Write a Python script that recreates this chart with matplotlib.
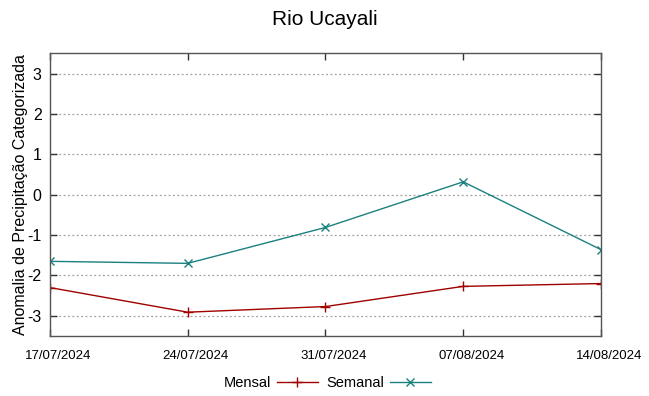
import numpy as np
import matplotlib.pyplot as plt
import matplotlib.transforms as mtransforms
from datetime import datetime

datas = ["17/07/2024", "24/07/2024", "31/07/2024", "07/08/2024", "14/08/2024"]
mensal = [-2.30, -2.91, -2.77, -2.27, -2.20]
semanal = [-1.65, -1.70, -0.81, 0.32, -1.36]
yticks = [-3, -2, -1, 0, 1, 2, 3]

plt.rcParams['font.family'] = ['Liberation Sans', 'DejaVu Sans']

x = [datetime.strptime(d, "%d/%m/%Y") for d in datas]

fig = plt.figure(figsize=(6.49, 3.96), dpi=100)
ax = fig.add_axes([0.0770, 0.1515, 0.8490, 0.7134])

ax.plot(x, mensal, color='#a00000', lw=1, marker='+', ms=7, mew=1, label='Mensal')
ax.plot(x, semanal, color='#1b8080', lw=1, marker='x', ms=6, mew=1, label='Semanal')

ax.set_xlim(x[0], x[-1])
ax.set_ylim(-3.5, 3.5)
ax.set_xticks(x)
ax.set_xticklabels(datas, family=['Liberation Sans Narrow', 'Liberation Sans'], fontsize=9.5)
ax.set_yticks(yticks)
ax.set_yticklabels([str(v) for v in yticks], fontsize=11.5)
ax.tick_params(direction='in', length=5, width=1, top=True, right=True, color='#333333', pad=6)
ax.tick_params(axis='x', pad=10)

# rotulos do eixo x levemente deslocados para a direita, como no original
desloc = mtransforms.ScaledTranslation(8 / 100, 0, fig.dpi_scale_trans)
for lbl in ax.get_xticklabels():
    lbl.set_transform(lbl.get_transform() + desloc)

ax.yaxis.grid(True, linestyle=(0, (1.5, 2)), color='#a0a0a0', lw=0.9)
for s in ax.spines.values():
    s.set_color('#555555')
    s.set_linewidth(1)

ax.set_ylabel("Anomalia de Precipitação Categorizada", fontsize=11.5, labelpad=-0.5)
fig.suptitle("Rio Ucayali", fontsize=15, y=0.975)

ax.legend(loc='upper center', bbox_to_anchor=(0.503, -0.141), ncol=2, frameon=False,
          markerfirst=False, fontsize=10.5, handlelength=2.8, columnspacing=0.6,
          handletextpad=0.4, borderaxespad=0, borderpad=0)

fig.savefig("out.png", dpi=100)
